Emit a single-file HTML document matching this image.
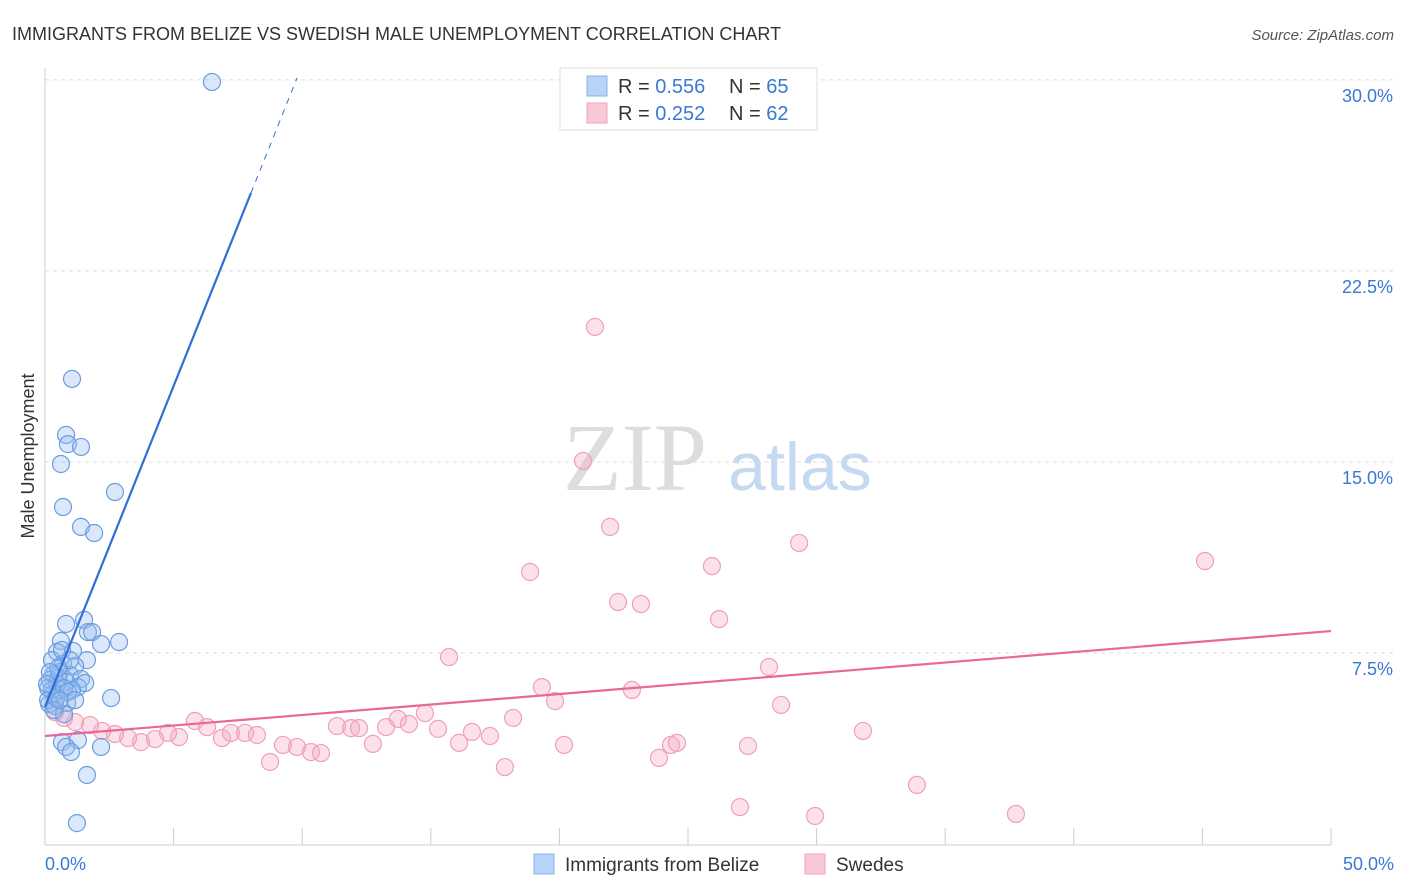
<!DOCTYPE html>
<html><head><meta charset="utf-8"><style>
body{margin:0;background:#fff;font-family:"Liberation Sans",sans-serif}
svg{display:block}
</style></head><body>
<svg id="chart" width="1406" height="892" xmlns="http://www.w3.org/2000/svg">
<text x="12" y="40" font-size="18" fill="#333">IMMIGRANTS FROM BELIZE VS SWEDISH MALE UNEMPLOYMENT CORRELATION CHART</text>
<text x="1394" y="40" font-size="15" fill="#555" font-style="italic" text-anchor="end">Source: ZipAtlas.com</text>
<text transform="translate(34,456) rotate(-90)" font-size="18" fill="#333" text-anchor="middle">Male Unemployment</text>
<g id="grid"></g>
<g><text x="635" y="490" font-size="96" font-family="Liberation Serif,serif" fill="#ddd" text-anchor="middle">ZIP</text><text x="800" y="490" font-size="68" fill="#c5d9f0" text-anchor="middle">atlas</text></g>
<g id="pts"></g>
<g id="lines"></g>
<g>
<rect x="560" y="68" width="257" height="62" fill="#fff" stroke="#ddd"/>
<rect x="587" y="76" width="20" height="20" fill="#b8d3f5" stroke="#8ab2e6"/>
<rect x="587" y="103" width="20" height="20" fill="#f9c8d7" stroke="#eea6bd"/>
<text x="618" y="93" font-size="20" fill="#333">R = <tspan fill="#3a78d4">0.556</tspan><tspan x="729">N = </tspan><tspan fill="#3a78d4">65</tspan></text>
<text x="618" y="120" font-size="20" fill="#333">R = <tspan fill="#3a78d4">0.252</tspan><tspan x="729">N = </tspan><tspan fill="#3a78d4">62</tspan></text>
</g>
<g>
<rect x="534" y="854" width="20" height="20" fill="#b8d3f5" stroke="#8ab2e6"/>
<text x="565" y="871" font-size="19" fill="#333">Immigrants from Belize</text>
<rect x="805" y="854" width="20" height="20" fill="#f9c8d7" stroke="#eea6bd"/>
<text x="836" y="871" font-size="19" fill="#333">Swedes</text>
</g>
</svg>
<script>
const yTicks=[7.5,15,22.5,30];
const yTickLabels=["7.5%","15.0%","22.5%","30.0%"];
const xTickLabels=["0.0%","50.0%"];
const belizeX=[6.49,1.05,0.82,0.89,1.40,0.62,2.72,0.70,1.40,1.91,1.52,0.82,1.67,1.83,2.88,2.18,0.62,0.47,1.09,1.63,0.27,0.70,1.17,0.58,0.35,0.97,1.40,0.19,0.82,0.47,1.28,1.56,0.12,0.58,0.31,1.05,2.57,0.86,0.16,0.39,0.74,0.66,1.28,0.82,1.01,2.18,1.63,1.24,0.27,0.51,0.74,0.12,0.43,0.66,0.97,0.51,0.19,0.08,0.35,0.89,0.58,1.17];
const belizeY=[29.92,18.26,16.06,15.70,15.59,14.92,13.82,13.23,12.45,12.21,8.80,8.64,8.32,8.32,7.93,7.85,7.97,7.54,7.58,7.22,7.22,7.07,6.99,6.75,6.67,6.64,6.48,6.44,6.36,6.28,6.16,6.32,6.12,6.05,5.89,6.05,5.73,5.54,5.50,5.42,5.10,4.00,4.08,3.81,3.61,3.81,2.71,0.82,6.05,6.52,6.12,5.65,5.73,7.62,7.22,6.91,6.75,6.28,5.26,5.97,5.65,5.65];
const swedesX=[21.38,20.92,21.97,18.86,25.93,29.32,45.10,22.28,23.17,26.21,15.71,28.15,19.32,22.82,19.83,28.62,18.20,14.77,13.72,14.15,11.35,11.90,12.21,13.26,15.28,16.60,17.30,16.10,31.80,5.83,6.30,6.88,7.23,7.78,8.24,5.21,4.78,4.28,3.73,3.23,2.72,2.22,1.75,1.17,0.74,9.25,9.80,10.34,10.73,12.75,8.75,17.88,20.18,23.87,24.34,24.57,27.33,27.02,29.94,33.90,37.75,0.39];
const swedesY=[20.30,15.04,12.45,10.68,10.91,11.82,11.11,9.50,9.42,8.83,7.34,6.95,6.16,6.05,5.61,5.46,4.95,5.14,4.91,4.71,4.63,4.55,4.55,4.59,4.52,4.40,4.24,3.97,4.44,4.83,4.59,4.16,4.36,4.36,4.28,4.20,4.36,4.12,4.00,4.16,4.32,4.44,4.67,4.79,4.95,3.89,3.81,3.61,3.57,3.93,3.22,3.02,3.89,3.38,3.89,3.97,3.85,1.45,1.10,2.32,1.18,5.18];
const belizeTrend=[5.38,2.52]; // intercept, slope
const swedesTrend=[4.24,0.0824];

const X0=45,X1=1331,Y0=844,YPER=25.47;
const sx=v=>X0+v/50*(X1-X0);
const sy=v=>Y0-v*YPER;
const NS="http://www.w3.org/2000/svg";
function mk(tag,attrs,parent){const e=document.createElementNS(NS,tag);for(const k in attrs)e.setAttribute(k,attrs[k]);parent.appendChild(e);return e;}
const grid=document.getElementById('grid');
mk('line',{x1:45,y1:68,x2:45,y2:845,stroke:'#ccc'},grid);
mk('line',{x1:45,y1:845,x2:1331,y2:845,stroke:'#ccc'},grid);
yTicks.forEach((t,i)=>{
  const g=mk('line',{x1:45,y1:sy(t),x2:1394,y2:sy(t),stroke:'#ddd','stroke-dasharray':'4,4'},grid);
  
  
  const tx=mk('text',{x:1393,y:sy(t)+22,'font-size':18,fill:'#3a78d4','text-anchor':'end'},grid);
  tx.textContent=yTickLabels[i];
  
  
});
for(let i=0;i<=10;i++){const x=sx(i*5);mk('line',{x1:x,y1:828,x2:x,y2:845,stroke:'#ccc'},grid);}
[[0,'start',45],[50,'end',1394]].forEach((d,i)=>{
  const tx=mk('text',{x:d[2],y:870,'font-size':18,fill:'#3a78d4','text-anchor':d[1]},grid);
  tx.textContent=xTickLabels[i];
  
  
});
const pts=document.getElementById('pts');
swedesX.forEach((x,i)=>{
  const c=mk('circle',{cx:sx(x),cy:sy(swedesY[i]),r:8.5,fill:'rgba(246,170,195,0.35)',stroke:'#eea0b9','stroke-width':1.2},pts);
  
  
});
belizeX.forEach((x,i)=>{
  const c=mk('circle',{cx:sx(x),cy:sy(belizeY[i]),r:8.5,fill:'rgba(150,190,240,0.35)',stroke:'#6a9de0','stroke-width':1.2},pts);
  
  
});
const lines=document.getElementById('lines');
const bl=mk('line',{x1:sx(0),y1:sy(belizeTrend[0]),x2:sx(8.01),y2:sy(belizeTrend[0]+belizeTrend[1]*8.01),stroke:'#2e6fd6','stroke-width':2.2},lines);


const bd=mk('line',{x1:sx(8.01),y1:sy(belizeTrend[0]+belizeTrend[1]*8.01),x2:sx(9.8),y2:sy(belizeTrend[0]+belizeTrend[1]*9.8),stroke:'#2e6fd6','stroke-width':1,'stroke-dasharray':'6,6'},lines);


const pl=mk('line',{x1:sx(0),y1:sy(swedesTrend[0]),x2:sx(50),y2:sy(swedesTrend[0]+swedesTrend[1]*50),stroke:'#e8689a','stroke-width':2.2},lines);


</script>
</body></html>
